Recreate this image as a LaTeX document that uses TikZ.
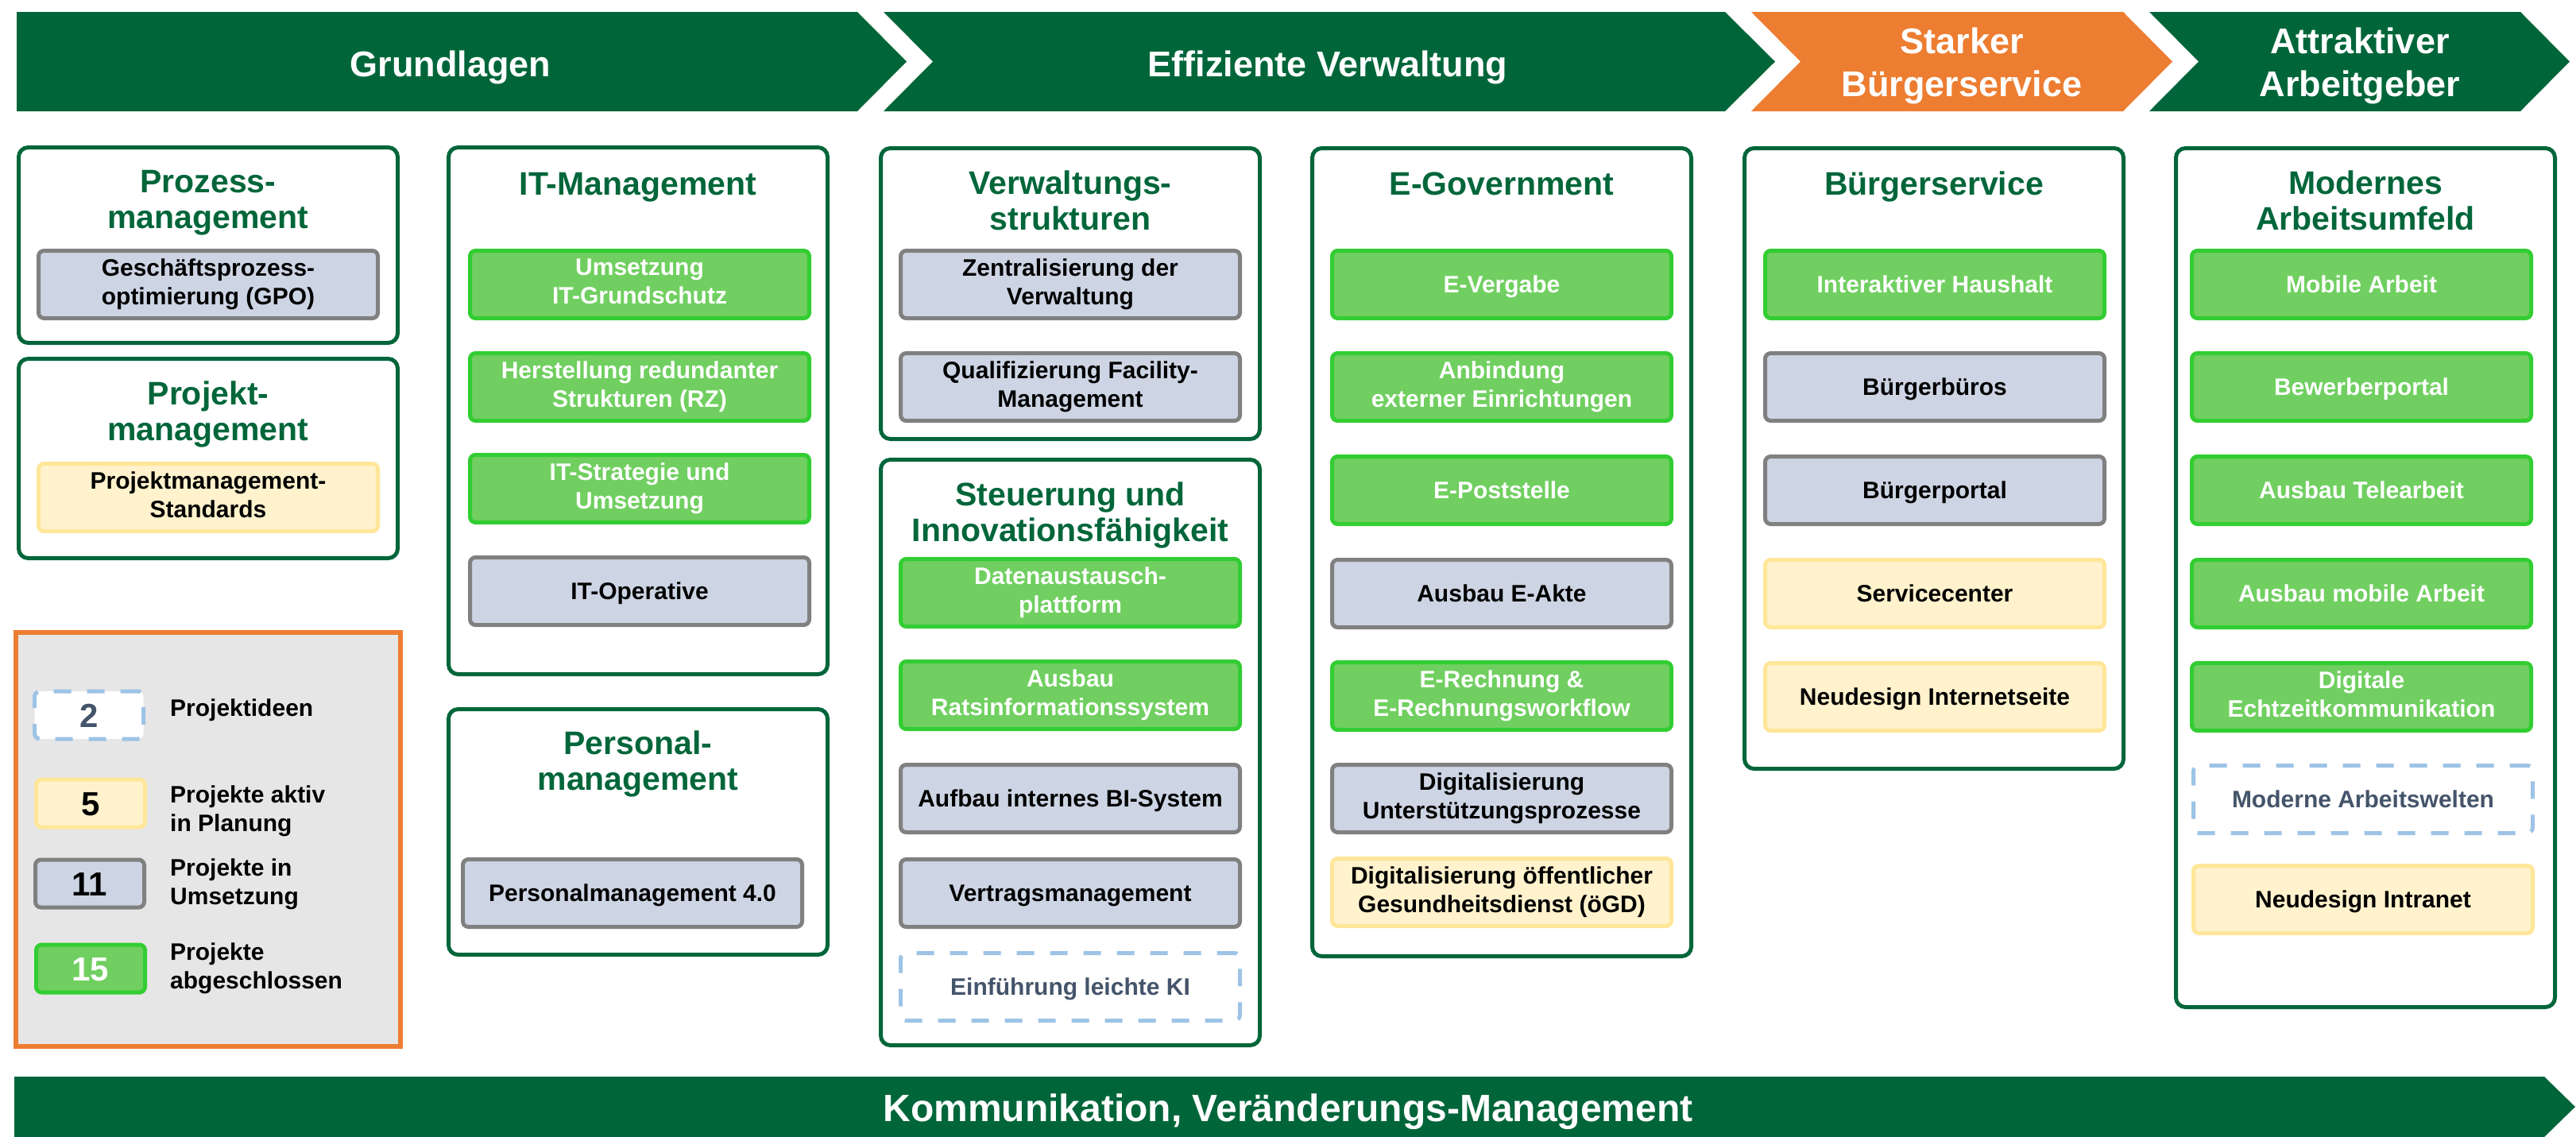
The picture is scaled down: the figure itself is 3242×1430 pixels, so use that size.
\documentclass[tikz,border=0pt]{standalone}
\usepackage{fontspec}
\setmainfont{Liberation Sans}
\definecolor{dg}{RGB}{0,102,58}
\definecolor{orng}{RGB}{237,125,49}
\definecolor{gfill}{RGB}{112,207,96}
\definecolor{gbord}{RGB}{50,205,50}
\definecolor{bfill}{RGB}{205,213,228}
\definecolor{bbord}{RGB}{128,128,128}
\definecolor{yfill}{RGB}{255,242,204}
\definecolor{ybord}{RGB}{255,230,153}
\definecolor{ibord}{RGB}{157,195,230}
\definecolor{itext}{RGB}{68,84,106}
\definecolor{lgrey}{RGB}{230,230,230}
\newcommand\mystrut{\rule[-0.234em]{0pt}{1.184em}}
\newcommand\myfnt[2]{\fontsize{#1pt}{#2pt}\bfseries\selectfont\lineskiplimit=-1000pt\relax}
\tikzset{
  txt/.style={inner sep=0pt, align=center, execute at begin node=\mystrut, execute at end node=\mystrut},
  hdr/.style={txt, text=white, font={\myfnt{45}{54}}},
  ttl/.style={txt, text=dg, font={\myfnt{41}{45}}},
  item/.style={txt, draw, line width=5pt, rounded corners=7pt, minimum width=427pt, minimum height=85pt, font={\myfnt{30}{36}}},
  done/.style={item, draw=gbord, fill=gfill, text=white},
  wip/.style={item, draw=bbord, fill=bfill, text=black},
  plan/.style={item, draw=ybord, fill=yfill, text=black},
  idea/.style={item, draw=ibord, fill=white, text=itext, dash pattern=on 22pt off 20pt},
  cat/.style={draw=dg, line width=5pt, rounded corners=12pt, fill=white, minimum width=477pt, inner sep=0pt},
  legkey/.style={minimum width=137pt, minimum height=60pt, font={\myfnt{42}{46}}},
  ltxt/.style={txt, anchor=west, align=left, text=black, font={\myfnt{30}{36}}}
}
\begin{document}
\begin{tikzpicture}[x=1pt,y=-1pt]
\fill[white] (0,0) rectangle (3242,1430);
\useasboundingbox (0,0) rectangle (3242,1430);
% header chevrons
\fill[dg] (21,15) -- (1079,15) -- (1141,77.5) -- (1079,140) -- (21,140) -- cycle;
\node[hdr] (h1) at (567,80) {Grundlagen};
\fill[dg] (1112,15) -- (2171,15) -- (2234,77.5) -- (2171,140) -- (1112,140) -- (1174,77.5) -- cycle;
\node[hdr] (h2) at (1671,80) {Effiziente Verwaltung};
\fill[orng] (2204,15) -- (2672,15) -- (2734,77.5) -- (2672,140) -- (2204,140) -- (2266,77.5) -- cycle;
\node[hdr] (h3) at (2469,83) {Starker\\Bürgerservice};
\fill[dg] (2705,15) -- (3172,15) -- (3234,77.5) -- (3172,140) -- (2705,140) -- (2767,77.5) -- cycle;
\node[hdr] (h4) at (2970,83) {Attraktiver\\Arbeitgeber};
% bottom bar
\fill[dg] (18,1355) -- (3202,1355) -- (3241,1393) -- (3202,1431) -- (18,1431) -- cycle;
\node[hdr, font={\myfnt{48}{54}}] (bar) at (1621,1394) {Kommunikation, Veränderungs-Management};
% category boxes
\node[cat, minimum height=246pt] (prozess) at (262,308.5) {};
\node[cat, minimum height=251pt] (projekt) at (262,577) {};
\node[cat, minimum height=663pt] (itm) at (803,517) {};
\node[cat, minimum height=309pt] (personal) at (803,1047) {};
\node[cat, minimum height=366pt] (verw) at (1347,369.5) {};
\node[cat, minimum height=737pt] (steu) at (1347,947) {};
\node[cat, minimum height=1017pt] (egov) at (1890,695) {};
\node[cat, minimum height=781pt] (buerger) at (2434,577) {};
\node[cat, minimum height=1081pt] (modern) at (2977,727) {};
% titles
\node[ttl] (t1) at (262,256) {Prozess-\\management};
\node[ttl] (t2) at (262,522) {Projekt-\\management};
\node[ttl] (t3) at (803,231) {IT-Management};
\node[ttl] (t4) at (803,962) {Personal-\\management};
\node[ttl] (t5) at (1347,257) {Verwaltungs-\\strukturen};
\node[ttl] (t6) at (1347,649) {Steuerung und\\Innovationsfähigkeit};
\node[ttl] (t7) at (1890,231) {E-Government};
\node[ttl] (t8) at (2434,231) {Bürgerservice};
\node[ttl] (t9) at (2977,257) {Modernes\\Arbeitsumfeld};
% column 1
\node[wip] (gpo) at (262,358) {Geschäftsprozess-\\optimierung (GPO)};
\node[plan] (pms) at (262,626) {Projektmanagement-\\Standards};
% column 2
\node[done] (it1) at (805,358) {Umsetzung\\IT-Grundschutz};
\node[done] (it2) at (805,487) {Herstellung redundanter\\Strukturen (RZ)};
\node[done] (it3) at (805,615) {IT-Strategie und\\Umsetzung};
\node[wip] (it4) at (805,744) {IT-Operative};
\node[wip] (pm4) at (796,1124) {Personalmanagement 4.0};
% column 3
\node[wip] (vw1) at (1347,358) {Zentralisierung der\\Verwaltung};
\node[wip] (vw2) at (1347,487) {Qualifizierung Facility-\\Management};
\node[done] (st1) at (1347,746) {Datenaustausch-\\plattform};
\node[done] (st2) at (1347,875) {Ausbau\\Ratsinformationssystem};
\node[wip] (st3) at (1347,1005) {Aufbau internes BI-System};
\node[wip] (st4) at (1347,1124) {Vertragsmanagement};
\node[idea] (st5) at (1347,1242) {Einführung leichte KI};
% column 4
\node[done] (eg1) at (1890,358) {E-Vergabe};
\node[done] (eg2) at (1890,487) {Anbindung\\externer Einrichtungen};
\node[done] (eg3) at (1890,617) {E-Poststelle};
\node[wip] (eg4) at (1890,747) {Ausbau E-Akte};
\node[done] (eg5) at (1890,876) {E-Rechnung \&\\E-Rechnungsworkflow};
\node[wip] (eg6) at (1890,1005) {Digitalisierung\\Unterstützungsprozesse};
\node[plan] (eg7) at (1890,1123) {Digitalisierung öffentlicher\\Gesundheitsdienst (öGD)};
% column 5
\node[done] (bs1) at (2435,358) {Interaktiver Haushalt};
\node[wip] (bs2) at (2435,487) {Bürgerbüros};
\node[wip] (bs3) at (2435,617) {Bürgerportal};
\node[plan] (bs4) at (2435,747) {Servicecenter};
\node[plan] (bs5) at (2435,877) {Neudesign Internetseite};
% column 6
\node[done] (ma1) at (2972,358) {Mobile Arbeit};
\node[done] (ma2) at (2972,487) {Bewerberportal};
\node[done] (ma3) at (2972,617) {Ausbau Telearbeit};
\node[done] (ma4) at (2972,747) {Ausbau mobile Arbeit};
\node[done] (ma5) at (2972,877) {Digitale\\Echtzeitkommunikation};
\node[idea] (ma6) at (2974,1006) {Moderne Arbeitswelten};
\node[plan] (ma7) at (2974,1132) {Neudesign Intranet};
% legend
\node[draw=orng, fill=lgrey, line width=6pt, minimum width=484pt, minimum height=521pt, inner sep=0pt] (legend) at (262,1056.5) {};
\node[idea, legkey] (k1) at (112,900) {2};
\node[plan, legkey] (k2) at (114,1011) {5};
\node[wip, legkey] (k3) at (113,1112) {11};
\node[done, legkey] (k4) at (114,1219) {15};
\node[ltxt] (l1) at (214,891) {Projektideen};
\node[ltxt] (l2) at (214,1021) {Projekte aktiv\\in Planung};
\node[ltxt] (l3) at (214,1113) {Projekte in\\Umsetzung};
\node[ltxt] (l4) at (214,1219) {Projekte\\abgeschlossen};
\end{tikzpicture}
\end{document}
